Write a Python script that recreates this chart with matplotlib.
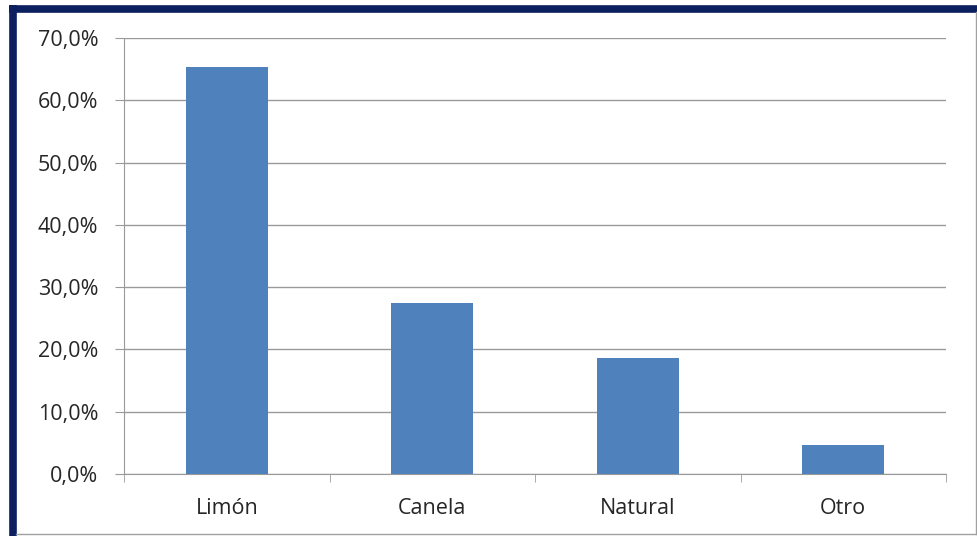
import matplotlib.pyplot as plt
from matplotlib.lines import Line2D
from matplotlib.ticker import FuncFormatter

categories = ["Limón", "Canela", "Natural", "Otro"]
values = [65.4, 27.5, 18.6, 4.7]
yticks = [0, 10, 20, 30, 40, 50, 60, 70]

plt.rcParams['font.family'] = ['Open Sans', 'DejaVu Sans']

W, H = 977, 536
fig = plt.figure(figsize=(W / 100, H / 100), dpi=100)
ax = fig.add_axes([124 / W, 1 - 474 / H, (946 - 124) / W, (474 - 38) / H])

x = list(range(len(categories)))
ax.bar(x, values, width=0.4, color="#4F81BD", zorder=3)

ax.set_xlim(-0.5, len(categories) - 0.5)
ax.set_ylim(0, 70)
ax.set_yticks(yticks)
ax.yaxis.set_major_formatter(FuncFormatter(lambda v, p: f"{v:.1f}%".replace(".", ",")))
ax.set_xticks(x)
ax.set_xticklabels(categories)
ax.set_xticks([i + 0.5 for i in range(-1, len(categories))], minor=True)

grey = "#9A9A9A"
ax.grid(axis="y", color=grey, linewidth=1, zorder=0)
for s in ["top", "right"]:
    ax.spines[s].set_visible(False)
ax.spines["left"].set_color(grey)
ax.spines["bottom"].set_color(grey)
ax.tick_params(axis="y", length=6.5, color=grey, labelsize=15.5, labelcolor="#262626", pad=12)
ax.tick_params(axis="x", which="major", length=0, labelsize=15.5, labelcolor="#262626", pad=17)
ax.tick_params(axis="x", which="minor", length=6, color=grey)

# outer frame
navy = "#0C1F5E"
fig.add_artist(Line2D([9 / W, 1], [1 - 8.5 / H, 1 - 8.5 / H], color=navy, linewidth=5.5,
                      solid_capstyle="butt", transform=fig.transFigure))
fig.add_artist(Line2D([12.5 / W, 12.5 / W], [0, 1 - 5 / H], color=navy, linewidth=5.5,
                      solid_capstyle="butt", transform=fig.transFigure))
fig.add_artist(Line2D([975.5 / W, 975.5 / W], [2.5 / H, 1 - 12 / H], color="#A0A0A0", linewidth=1,
                      transform=fig.transFigure))
fig.add_artist(Line2D([16 / W, 976 / W], [2.5 / H, 2.5 / H], color="#A0A0A0", linewidth=1,
                      transform=fig.transFigure))

fig.savefig("out.png", dpi=100)
